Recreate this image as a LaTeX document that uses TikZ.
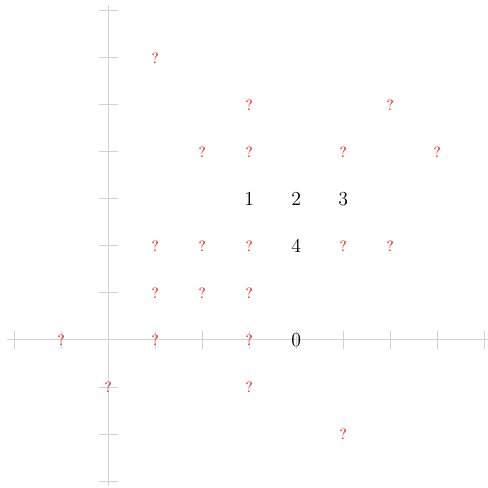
\documentclass[tikz,border=0pt]{standalone}
\begin{document}
\begin{tikzpicture}[x=1cm,y=1cm,
  axis/.style={gray!35, line width=0.5pt},
  tick/.style={gray!35, line width=0.5pt},
  q/.style={text=red, font=\small, inner sep=0pt},
  num/.style={text=black, font=\large, inner sep=0pt}]
\useasboundingbox (-2.3,-3.13) rectangle (8.08,7.23);
\draw[axis] (-2.15,0) coordinate (xl) -- (8.15,0) coordinate (xr);
\draw[axis] (0,-3.1) coordinate (yb) -- (0,7.13) coordinate (yt);
\foreach \i in {-2,...,8} \draw[tick] (\i,-0.2) -- (\i,0.2);
\foreach \j in {-3,...,7} \draw[tick] (-0.2,\j) -- (0.2,\j);
\foreach \x/\y [count=\k] in {1/6,3/5,6/5,2/4,3/4,5/4,7/4,1/2,2/2,3/2,5/2,6/2,1/1,2/1,3/1,-1/0,1/0,3/0,0/-1,3/-1,5/-2}
  \node[q] (q\k) at (\x,\y) {?};
\node[num] (n1) at (3,3) {1};
\node[num] (n2) at (4,3) {2};
\node[num] (n3) at (5,3) {3};
\node[num] (n4) at (4,2) {4};
\node[num] (n0) at (4,0) {0};
\end{tikzpicture}
\end{document}
